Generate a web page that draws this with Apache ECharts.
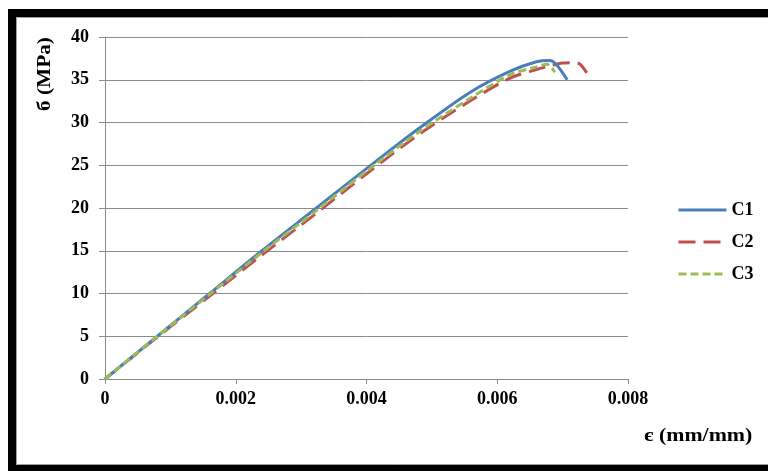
<!DOCTYPE html>
<html>
<head>
<meta charset="utf-8">
<script src="https://cdn.jsdelivr.net/npm/echarts@6/dist/echarts.min.js"></script>
<style>
html,body{margin:0;padding:0;background:#fff;}
#chart{width:768px;height:471px;}
</style>
</head>
<body>
<div id="chart"></div>
<script>
const seriesNames = ['C1', 'C2', 'C3'];
const strainC1 = [0, 0.0008, 0.0016, 0.0024, 0.0032, 0.0040, 0.0048, 0.0056, 0.0062, 0.0066, 0.0068, 0.0069, 0.00707];
const stressC1 = [0, 5.0, 10.0, 15.0, 19.8, 24.6, 29.3, 33.6, 36.0, 37.1, 37.25, 36.8, 35.0];
const strainC2 = [0, 0.0008, 0.0016, 0.0024, 0.0032, 0.0040, 0.0048, 0.0056, 0.0062, 0.0066, 0.0068, 0.0070, 0.0072, 0.00727, 0.00737];
const stressC2 = [0, 4.9, 9.7, 14.5, 19.2, 24.0, 28.6, 32.6, 35.2, 36.2, 36.6, 36.95, 37.0, 36.8, 35.8];
const strainC3 = [0, 0.0008, 0.0016, 0.0024, 0.0032, 0.0040, 0.0048, 0.0056, 0.0062, 0.0066, 0.00676, 0.00688];
const stressC3 = [0, 5.0, 9.9, 14.8, 19.5, 24.3, 28.9, 32.9, 35.6, 36.5, 36.8, 35.9];
const xTicks = [0, 0.002, 0.004, 0.006, 0.008];
const yTicks = [0, 5, 10, 15, 20, 25, 30, 35, 40];
const xTitle = 'є (mm/mm)';
const yTitle = 'б (MPa)';

const zip = (a, b) => a.map((v, i) => [v, b[i]]);
const font = '"Liberation Serif", "Times New Roman", serif';
const gridColor = '#8c8c8c';

const chart = echarts.init(document.getElementById('chart'));
chart.setOption({
  animation: false,
  backgroundColor: '#fff',
  grid: { left: 105, right: 140, top: 37, bottom: 92 },
  xAxis: {
    type: 'value', min: xTicks[0], max: xTicks[xTicks.length - 1], interval: 0.002,
    axisLine: { show: true, lineStyle: { color: gridColor, width: 1 } },
    axisTick: { show: true, length: 5, lineStyle: { color: gridColor } },
    splitLine: { show: false },
    axisLabel: {
      margin: 11, color: '#000', fontFamily: font, fontWeight: 'bold', fontSize: 18,
      formatter: v => v === 0 ? '0' : v.toFixed(3)
    }
  },
  yAxis: {
    type: 'value', min: yTicks[0], max: yTicks[yTicks.length - 1], interval: 5,
    axisLine: { show: true, lineStyle: { color: gridColor, width: 1 } },
    axisTick: { show: true, length: 6, lineStyle: { color: gridColor } },
    splitLine: { show: true, lineStyle: { color: gridColor, width: 1 } },
    axisLabel: { margin: 16, color: '#000', fontFamily: font, fontWeight: 'bold', fontSize: 18 }
  },
  legend: {
    orient: 'vertical', left: 672, top: 196, itemWidth: 48, itemHeight: 14, itemGap: 14,
    itemStyle: { opacity: 0, borderWidth: 0 },
    lineStyle: { width: 3 },
    textStyle: { color: '#000', fontFamily: font, fontWeight: 'bold', fontSize: 18 },
    data: seriesNames
  },
  series: [
    { name: seriesNames[0], type: 'line', data: zip(strainC1, stressC1), smooth: 0.3, showSymbol: false, symbol: 'none',
      lineStyle: { color: '#4a7ebb', width: 3 }, itemStyle: { color: '#4a7ebb' }, z: 3 },
    { name: seriesNames[1], type: 'line', data: zip(strainC2, stressC2), smooth: 0.3, showSymbol: false, symbol: 'none',
      lineStyle: { color: '#c0504d', width: 3, type: [17, 8] }, itemStyle: { color: '#c0504d' }, z: 2 },
    { name: seriesNames[2], type: 'line', data: zip(strainC3, stressC3), smooth: 0.3, showSymbol: false, symbol: 'none',
      lineStyle: { color: '#9bbb59', width: 3, type: [8, 4] }, itemStyle: { color: '#9bbb59' }, z: 4 }
  ],
  graphic: [
    { type: 'rect', shape: { x: 12, y: 13, width: 800, height: 456 }, style: { fill: null, stroke: '#000', lineWidth: 8 }, silent: true, z: 100 },
    { type: 'rect', shape: { x: 16.5, y: 17.5, width: 800, height: 447 }, style: { fill: null, stroke: '#a0a0a0', lineWidth: 1 }, silent: true, z: 100 },
    { type: 'text', left: 644, top: 427, style: { text: xTitle, fill: '#000', font: 'bold 19px ' + font }, scaleX: 1.15, silent: true },
    { type: 'text', x: 36, y: 111, rotation: Math.PI / 2, style: { text: yTitle, fill: '#000', font: 'bold 19px ' + font }, scaleX: 1.12, silent: true }
  ]
});
</script>
</body>
</html>
